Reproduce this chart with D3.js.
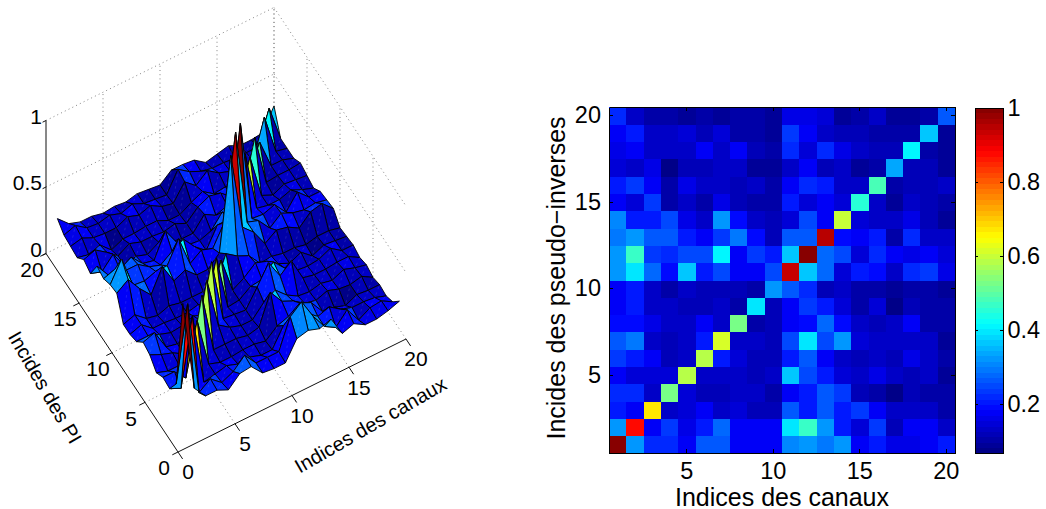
<!DOCTYPE html>
<html><head><meta charset="utf-8">
<script src="https://cdn.jsdelivr.net/npm/d3@7"></script>
<style>
html,body{margin:0;padding:0;background:#fff}
svg{display:block}
text{font-family:"Liberation Sans",Arial,sans-serif;fill:#000}
.axis path,.axis line{stroke:#000;stroke-width:1;shape-rendering:crispEdges}
</style></head><body>
<svg id="c" width="1046" height="509"></svg>
<script>
// Rows of the cross-correlation matrix: one array per "Indice de PI", columns are channels 1..20
const row01=[1.00,.32,.22,.22,.18,.26,.27,.18,.17,.17,.31,.33,.30,.33,.18,.21,.16,.16,.18,.21];
const row02=[.32,.88,.17,.23,.16,.20,.28,.18,.18,.18,.40,.47,.32,.20,.15,.24,.12,.17,.18,.13];
const row03=[.21,.17,.67,.13,.15,.17,.14,.15,.12,.12,.26,.20,.27,.20,.23,.17,.14,.14,.13,.10];
const row04=[.22,.22,.13,.52,.15,.12,.12,.13,.13,.11,.18,.21,.27,.23,.12,.11,.08,.12,.11,.11];
const row05=[.18,.15,.15,.15,.59,.14,.14,.14,.12,.14,.36,.25,.21,.15,.13,.16,.13,.12,.14,.09];
const row06=[.24,.20,.17,.12,.14,.59,.21,.15,.12,.12,.21,.26,.18,.13,.12,.14,.12,.16,.13,.11];
const row07=[.26,.29,.14,.12,.14,.21,.61,.14,.13,.12,.25,.39,.25,.32,.15,.13,.13,.14,.14,.09];
const row08=[.19,.19,.16,.13,.14,.17,.14,.52,.11,.12,.18,.19,.28,.19,.13,.12,.13,.17,.11,.11];
const row09=[.17,.20,.13,.13,.12,.12,.14,.10,.39,.12,.17,.24,.21,.15,.11,.15,.08,.12,.11,.10];
const row10=[.17,.20,.13,.11,.14,.12,.12,.12,.11,.32,.26,.22,.12,.13,.11,.11,.09,.11,.11,.09];
const row11=[.33,.39,.28,.19,.36,.21,.25,.17,.17,.25,.94,.36,.28,.15,.21,.19,.14,.22,.24,.16];
const row12=[.32,.47,.23,.22,.25,.25,.41,.18,.24,.21,.36,1.00,.28,.25,.15,.22,.18,.16,.17,.15];
const row13=[.29,.32,.27,.27,.21,.18,.24,.29,.19,.12,.27,.27,.95,.19,.18,.21,.11,.22,.14,.14];
const row14=[.31,.20,.20,.25,.16,.14,.32,.19,.13,.12,.15,.25,.17,.60,.15,.13,.13,.16,.12,.09];
const row15=[.18,.15,.24,.11,.14,.11,.16,.12,.10,.10,.20,.15,.18,.15,.46,.13,.09,.13,.12,.11];
const row16=[.21,.24,.18,.11,.16,.13,.13,.12,.14,.10,.18,.22,.20,.13,.13,.49,.11,.12,.12,.13];
const row17=[.15,.13,.16,.08,.12,.12,.13,.13,.09,.09,.14,.18,.12,.13,.09,.11,.34,.12,.12,.09];
const row18=[.16,.18,.14,.13,.13,.17,.14,.17,.12,.10,.22,.15,.22,.16,.13,.12,.12,.41,.11,.09];
const row19=[.17,.20,.14,.13,.15,.12,.15,.11,.10,.09,.24,.18,.14,.12,.12,.11,.11,.11,.36,.09];
const row20=[.22,.14,.11,.11,.09,.10,.09,.11,.10,.09,.16,.16,.15,.09,.11,.13,.09,.09,.10,.26];
const matrix=[row01,row02,row03,row04,row05,row06,row07,row08,row09,row10,
              row11,row12,row13,row14,row15,row16,row17,row18,row19,row20];
const channels=d3.range(1,21);
const heatTicks=[5,10,15,20];
const barTicks=[.2,.4,.6,.8,1];
const gridTicks=[0,5,10,15,20];
const heightTicks=[0,.5,1];
const colourMin=.068, colourMax=1;
const xTitle="Indices des canaux";
const yTitleHeat="Incides des pseudo\u2212inverses";
const yTitleSurf="Incides des PI";

const svg=d3.select("#c");

// MATLAB jet, 64 levels
const jetStops=d3.scaleLinear()
  .domain([0,.125,.375,.625,.875,1])
  .range(["rgb(0,0,128)","rgb(0,0,255)","rgb(0,255,255)","rgb(255,255,0)","rgb(255,0,0)","rgb(128,0,0)"]);
const level=d3.scaleLinear().domain([colourMin,colourMax]).range([0,1]).clamp(true);
const jetLevels=d3.range(64).map(i=>jetStops((i+.5)/64));
const colour=v=>jetLevels[Math.min(63,Math.floor(level(v)*64))];

/* ---------- heat map ---------- */
const hx=d3.scaleBand().domain(channels).range([609,955]);
const hy=d3.scaleBand().domain(channels).range([453,107]);
const heat=svg.append("g").attr("shape-rendering","crispEdges");
heat.selectAll("g").data(matrix).join("g").each(function(r,i){
  d3.select(this).selectAll("rect").data(r).join("rect")
    .attr("x",(d,j)=>hx(channels[j])).attr("y",hy(channels[i]))
    .attr("width",hx.bandwidth()+.5).attr("height",hy.bandwidth()+.5)
    .attr("fill",d=>colour(d));
});
function styleAxis(g,size){g.attr("class","axis");g.selectAll("text").attr("font-size",size).attr("font-family",'"Liberation Sans"').attr("fill","#000");}
const HF=23.5;
svg.append("g").attr("transform","translate(0,453)")
  .call(d3.axisBottom(hx).tickValues(heatTicks).tickSizeInner(-4).tickSizeOuter(0).tickPadding(9))
  .call(styleAxis,HF);
svg.append("g").attr("transform","translate(609,0)")
  .call(d3.axisLeft(hy).tickValues(heatTicks).tickSizeInner(-4).tickSizeOuter(0).tickPadding(8))
  .call(styleAxis,HF);
svg.append("g").attr("transform","translate(0,107)")
  .call(d3.axisTop(hx).tickValues(heatTicks).tickSizeInner(-4).tickSizeOuter(0).tickFormat(""))
  .call(styleAxis,HF);
svg.append("g").attr("transform","translate(955,0)")
  .call(d3.axisRight(hy).tickValues(heatTicks).tickSizeInner(-4).tickSizeOuter(0).tickFormat(""))
  .call(styleAxis,HF);
svg.append("text").attr("x",782).attr("y",505.5).attr("text-anchor","middle").attr("font-size",25).text(xTitle);
svg.append("text").attr("transform","translate(565,278) rotate(-90)").attr("text-anchor","middle").attr("font-size",25).text(yTitleHeat);

/* ---------- colour bar ---------- */
const by=d3.scaleLinear().domain([colourMin,colourMax]).range([453,107.5]);
const bandH=(by(colourMin)-by(colourMax))/64;
svg.append("g").attr("shape-rendering","crispEdges").selectAll("rect").data(jetLevels).join("rect")
  .attr("x",975).attr("width",28)
  .attr("y",(d,i)=>by(colourMin+(colourMax-colourMin)*(i+1)/64)).attr("height",bandH+.6)
  .attr("fill",d=>d);
svg.append("g").attr("transform","translate(1003,0)")
  .call(d3.axisRight(by).tickValues(barTicks).tickFormat(d3.format("~g")).tickSizeInner(-3).tickSizeOuter(0).tickPadding(4.5))
  .call(styleAxis,HF);
svg.append("g").attr("transform","translate(975,0)")
  .call(d3.axisLeft(by).tickValues(barTicks).tickFormat("").tickSizeInner(-3).tickSizeOuter(0))
  .call(styleAxis,HF);
svg.append("g").attr("transform","translate(0,107.5)")
  .call(d3.axisTop(d3.scaleLinear().domain([0,1]).range([975,1003])).tickValues([]).tickSizeOuter(0))
  .call(styleAxis,HF);
svg.append("g").attr("transform","translate(0,453)")
  .call(d3.axisBottom(d3.scaleLinear().domain([0,1]).range([975,1003])).tickValues([]).tickSizeOuter(0))
  .call(styleAxis,HF);

/* ---------- 3-D surface: linear scales give the screen offsets of each data axis ---------- */
const origin=[178,452];
const xToX=d3.scaleLinear().domain([0,20]).range([0,228]);
const xToY=d3.scaleLinear().domain([0,20]).range([0,-113]);
const yToX=d3.scaleLinear().domain([0,20]).range([0,-132]);
const yToY=d3.scaleLinear().domain([0,20]).range([0,-198.5]);
const zToY=d3.scaleLinear().domain([0,1]).range([0,-133]);
const P=(x,y,z)=>[origin[0]+xToX(x)+yToX(y), origin[1]+xToY(x)+yToY(y)+zToY(z)];
const line3=d3.line();
const seg=(a,b)=>line3([P(...a),P(...b)]);

const grid3=svg.append("g").attr("fill","none").attr("stroke","#777").attr("stroke-width",.9).attr("stroke-dasharray","1 3.2");
const gridSegs=[];
gridTicks.slice(1).forEach(t=>{
  gridSegs.push([[t,0,0],[t,20,0]],[[t,20,0],[t,20,1]]);
  gridSegs.push([[0,t,0],[20,t,0]],[[20,t,0],[20,t,1]]);
});
heightTicks.slice(1).forEach(z=>{
  gridSegs.push([[0,20,z],[20,20,z]],[[20,20,z],[20,0,z]]);
});
grid3.selectAll("path").data(gridSegs).join("path").attr("d",d=>seg(d[0],d[1]));

// faces, far corner first; each face takes the colour of its lowest-index corner
const faces=[];
for(let i=18;i>=0;i--)for(let j=18;j>=0;j--)faces.push({i,j});
const surf=svg.append("g").attr("stroke-linejoin","round");
const corner=(j,i)=>P(channels[j],channels[i],matrix[i][j]);
faces.forEach(({i,j})=>{
  const pts=[corner(j,i),corner(j+1,i),corner(j+1,i+1),corner(j,i+1)];
  surf.append("path").attr("d",line3(pts)+"Z")
    .attr("fill",colour(matrix[i][j])).attr("stroke","#000").attr("stroke-width",.9);
  surf.append("path").attr("d",line3([corner(j,i),corner(j+1,i+1)]))
    .attr("fill","none").attr("stroke","#fff").attr("stroke-opacity",.22)
    .attr("stroke-width",.5).attr("stroke-dasharray","2.5 3.5").attr("stroke-dashoffset",-3);
});

// solid axes
const frame=svg.append("g").attr("stroke","#111").attr("stroke-width",1).attr("fill","none");
frame.append("path").attr("d",seg([0,0,0],[20,0,0]));
frame.append("path").attr("d",seg([0,0,0],[0,20,0]));
frame.append("path").attr("d",seg([0,20,0],[0,20,1]));
gridTicks.forEach(t=>{
  frame.append("path").attr("d",seg([t,0,0],[t,-.7,0]));
  frame.append("path").attr("d",seg([0,t,0],[-.5,t,0]));
});
heightTicks.forEach(z=>frame.append("path").attr("d",seg([0,20,z],[-.3,20,z])));

const SF=21;
const lab=svg.append("g").attr("font-size",SF).attr("text-anchor","middle");
gridTicks.forEach(t=>{
  const a=P(t,0,0); lab.append("text").attr("x",a[0]+10).attr("y",a[1]+20).attr("dy",".35em").text(t);
  const b=P(0,t,0); lab.append("text").attr("x",b[0]-14).attr("y",b[1]+16).attr("dy",".35em").text(t);
});
heightTicks.forEach(z=>{
  const a=P(0,20,z);
  lab.append("text").attr("x",a[0]-4).attr("y",a[1]-4).attr("dy",".35em").attr("text-anchor","end").text(d3.format("~g")(z));
});
svg.append("text").attr("transform","translate(374,431) rotate(-30)").attr("text-anchor","middle").attr("font-size",20).text(xTitle);
svg.append("text").attr("transform","translate(39,391) rotate(60)").attr("text-anchor","middle").attr("font-size",20).text(yTitleSurf);
</script></body></html>
